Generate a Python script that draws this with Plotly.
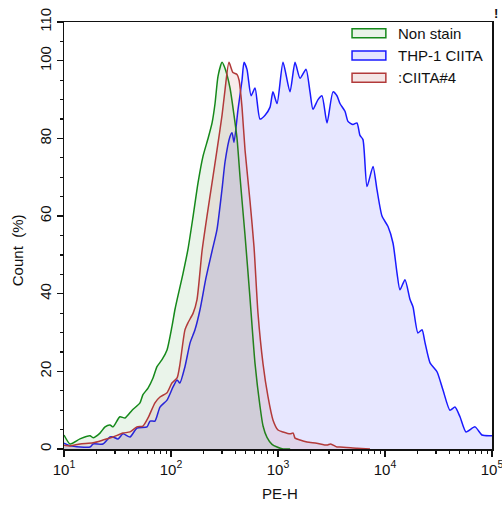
import plotly.graph_objects as go

# ---- data (PE-H value, count %) ----
non_stain_x = [10, 11.4, 14.1, 17.5, 18.7, 21.7, 24.2, 26.9, 28.7, 33.3, 37.2, 43.3, 51.3, 54.7,
               61.0, 67.9, 74.0, 82.4, 91.8, 102, 109, 114, 129, 144, 161, 179, 199, 222, 242,
               258, 275, 300, 320, 356, 388, 414, 442, 461, 492, 547, 610, 679, 724, 789, 879,
               980, 1114, 1300]
non_stain_y = [3.6, 1.3, 2.6, 3.4, 2.9, 4.1, 5.7, 6.2, 5.7, 8.3, 8.0, 10.0, 11.9, 14.0,
               15.7, 18.3, 21.2, 23.0, 25.5, 31.5, 36.0, 38.5, 45.0, 51.4, 60.0, 68.6, 75.4, 80.0, 84.0,
               89.0, 96.0, 99.6, 98.0, 93.0, 86.0, 80.0, 70.0, 64.0, 55.0, 39.0, 22.0, 11.0, 6.0, 3.0, 1.2,
               0.5, 0.0, 0.0]

thp1_x = [10, 11.4, 17.5, 18.7, 23.1, 26.9, 28.7, 32.0, 35.6, 41.4, 48.1, 59.7, 63.7, 70.8,
          78.9, 91.8, 104.5, 114, 121, 135, 151, 167.5, 187, 212, 242, 269, 300, 320, 356, 372,
          388, 423, 461, 481, 513, 560, 610, 679, 757, 841, 897, 980, 1114, 1294, 1442, 1607,
          1828, 1991, 2123, 2366, 2576, 2871, 3266, 3556, 3793, 4227, 4508, 5023, 5470, 5834,
          6223, 6792, 7727, 8414, 9376, 10670, 11890, 12940, 13800, 15380, 17140, 18280, 20320,
          22180, 23660, 26360, 30620, 34830, 40460, 45080, 50230, 57150, 69340, 80720, 95720, 100000]
thp1_y = [1.5, 0.8, 0.5, 1.3, 1.3, 3.1, 3.1, 2.6, 3.9, 3.1, 5.4, 5.7, 7.2, 7.2,
          10.8, 12.6, 16.0, 17.8, 17.0, 21.2, 27.4, 30.7, 36.0, 44.0, 51.0, 56.5, 67.0, 74.0, 80.5, 81.5,
          79.0, 87.5, 95.0, 99.6, 97.8, 91.0, 93.0, 85.0, 86.0, 88.0, 92.0, 89.0, 99.6, 92.0, 99.6, 95.5,
          97.8, 92.0, 87.5, 90.0, 91.0, 84.0, 92.0, 91.0, 89.0, 87.0, 84.4, 83.6, 84.0, 80.8,
          79.7, 67.6, 72.8, 66.8, 60.0, 57.3, 53.0, 45.4, 41.0, 43.6, 38.5, 36.6, 29.9,
          30.7, 27.4, 22.2, 19.9, 15.2, 10.0, 10.8, 8.3, 4.4, 5.7, 3.6, 3.4, 3.4]

ciita4_x = [10, 11.4, 14.1, 18.7, 23.1, 28.7, 35.6, 41.4, 48.1, 54.7, 61.0, 70.8, 78.9, 91.8,
            102, 114, 121, 135, 144, 161, 175, 195, 217, 242, 269, 300, 320, 348, 379, 414, 433,
            461, 492, 547, 597, 650, 724, 807, 897, 1000, 1114, 1294, 1387, 1442, 1607, 1866,
            2300, 2871, 3100, 3556, 3793, 5470, 7244]
ciita4_y = [1.0, 0.8, 1.3, 1.6, 2.3, 3.1, 4.1, 4.4, 5.7, 5.9, 8.0, 11.9, 13.4, 14.5,
            17.0, 18.3, 21.7, 30.7, 32.5, 35.0, 38.5, 51.0, 60.0, 68.6, 77.0, 86.0, 92.6, 99.6, 97.0, 96.5, 95.0,
            88.0, 77.0, 64.0, 52.0, 35.0, 22.0, 13.4, 7.5, 4.9, 4.4, 3.9, 4.1, 2.8, 2.3, 1.8,
            1.5, 1.0, 1.3, 0.5, 0.5, 0.2, 0.0]

series_names = ["Non stain", "THP-1 CIITA", ":CIITA#4"]
y_tick_vals = [0, 20, 40, 60, 80, 100, 110]
x_tick_vals = [10, 100, 1000, 10000, 100000]
x_tick_text = ["10<sup>1</sup>", "10<sup>2</sup>", "10<sup>3</sup>", "10<sup>4</sup>", "10<sup>5</sup>"]

# ---- styles ----
line_cols = {"Non stain": "#15891a", "THP-1 CIITA": "#1a1aff", ":CIITA#4": "#b23a3a"}
fill_cols = {"Non stain": "rgba(20,137,26,0.09)", "THP-1 CIITA": "rgba(40,40,255,0.11)",
             ":CIITA#4": "rgba(178,58,58,0.10)"}
swatch_fill = {"Non stain": "#e8f3e8", "THP-1 CIITA": "#e4e4ff", ":CIITA#4": "#f4e6e6"}

data = {"Non stain": (non_stain_x, non_stain_y),
        "THP-1 CIITA": (thp1_x, thp1_y),
        ":CIITA#4": (ciita4_x, ciita4_y)}

fig = go.Figure()
for name in ["THP-1 CIITA", "Non stain", ":CIITA#4"]:
    xs, ys = data[name]
    fig.add_trace(go.Scatter(x=xs, y=ys, name=name, mode="lines", fill="tozeroy",
                             fillcolor=fill_cols[name],
                             line=dict(color=line_cols[name], width=1.5, shape="spline", smoothing=0.6),
                             showlegend=False, hoverinfo="skip"))

FONT = "Liberation Sans, Arial, sans-serif"

# manual legend
shapes = []
annos = []
sw_y = [(0.984, 0.963), (0.932, 0.911), (0.880, 0.859)]
txt_y = [0.973, 0.922, 0.870]
for i, name in enumerate(series_names):
    shapes.append(dict(type="rect", xref="paper", yref="paper", x0=0.673, x1=0.752,
                       y0=sw_y[i][1], y1=sw_y[i][0], line=dict(color=line_cols[name], width=1.5),
                       fillcolor=swatch_fill[name]))
    annos.append(dict(xref="paper", yref="paper", x=0.776, y=txt_y[i], text=name, showarrow=False,
                      xanchor="left", yanchor="middle", font=dict(family=FONT, size=15, color="#111")))

annos.append(dict(xref="paper", yref="paper", x=0.504, y=-0.105, text="PE-H", showarrow=False,
                  xanchor="center", yanchor="middle", font=dict(family=FONT, size=15, color="#111")))
annos.append(dict(xref="paper", yref="paper", x=-0.108, y=0.465, text="Count  (%)", showarrow=False,
                  textangle=-90, xanchor="center", yanchor="middle",
                  font=dict(family=FONT, size=15, color="#111")))
annos.append(dict(xref="paper", yref="paper", x=1.009, y=1.021, text="<b>!</b>", showarrow=False,
                  xanchor="center", yanchor="middle", font=dict(family=FONT, size=13, color="#111")))

fig.update_layout(
    width=502, height=506,
    margin=dict(l=64, r=10, t=22, b=57, autoexpand=False),
    paper_bgcolor="white", plot_bgcolor="white",
    font=dict(family=FONT, size=14, color="#111"),
    shapes=shapes, annotations=annos,
    hovermode=False,
    xaxis=dict(type="log", range=[1, 5], tickvals=x_tick_vals, ticktext=x_tick_text,
               automargin=False, ticklabeloverflow="allow",
               ticks="outside", ticklen=6, tickwidth=1.2, tickcolor="#111",
               showline=True, linecolor="#111", linewidth=1.5, mirror=True,
               showgrid=False, zeroline=False,
               minor=dict(dtick="D1", ticks="outside", ticklen=3, tickcolor="#111", showgrid=False),
               tickfont=dict(family=FONT, size=15, color="#111")),
    yaxis=dict(range=[0, 110], tickvals=y_tick_vals, tickangle=-90,
               automargin=False, ticklabeloverflow="allow",
               ticks="outside", ticklen=6, tickwidth=1.2, tickcolor="#111",
               showline=True, linecolor="#111", linewidth=1.5, mirror=True,
               showgrid=False, zeroline=False,
               minor=dict(dtick=5, tick0=0, ticks="outside", ticklen=3, tickcolor="#111", showgrid=False),
               tickfont=dict(family=FONT, size=15, color="#111")),
)

fig.write_html("out.html", config={"displayModeBar": False, "staticPlot": True})

# remove the default page margin so the figure sits at the window's top-left corner
with open("out.html", "r", encoding="utf-8") as f:
    html = f.read()
html = html.replace("<head>", "<head><style>html,body{margin:0;padding:0;overflow:hidden;}</style>", 1)
with open("out.html", "w", encoding="utf-8") as f:
    f.write(html)
